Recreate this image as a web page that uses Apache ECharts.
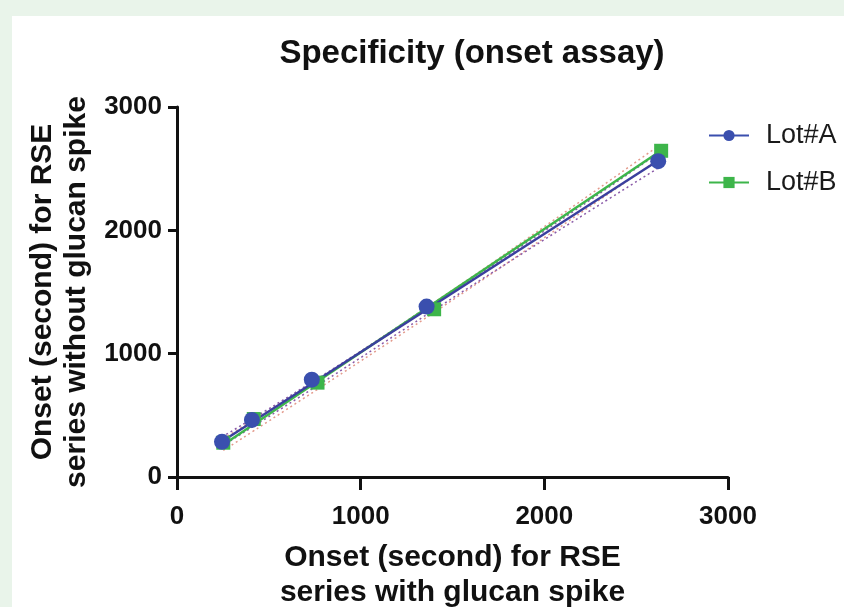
<!DOCTYPE html>
<html>
<head>
<meta charset="utf-8">
<script src="https://cdn.jsdelivr.net/npm/echarts@6/dist/echarts.min.js"></script>
<style>
  html, body { margin: 0; padding: 0; }
  body { width: 844px; height: 607px; background: #e9f4ea; position: relative; overflow: hidden; }
  #panel { position: absolute; left: 12px; top: 16px; right: 0; bottom: 0; background: #fff; }
  #chart { position: absolute; left: 0; top: 0; width: 844px; height: 607px; }
</style>
</head>
<body>
<div id="panel"></div>
<div id="chart"></div>
<script>
// 数据：Lot#A / Lot#B 的测量点（x: 有 glucan, y: 无 glucan）
const lotA = [[245, 285], [408, 463], [734, 789], [1359, 1382], [2620, 2561]];
const lotB = [[252, 278], [418, 470], [765, 765], [1400, 1360], [2636, 2645]];
// 拟合直线（读图得到的两端）
const fitA = [[245, 288], [2620, 2566]];
const fitB = [[252, 262], [2636, 2648]];
// 置信带（点线）
const bandAUp = [[245, 325], [800, 830], [1400, 1410], [2000, 1995], [2620, 2625]];
const bandALow = [[245, 250], [800, 775], [1400, 1355], [2000, 1925], [2620, 2505]];
const bandBUp = [[252, 310], [800, 825], [1400, 1415], [2000, 2030], [2636, 2700]];
const bandBLow = [[252, 215], [800, 745], [1400, 1335], [2000, 1940], [2636, 2590]];

var chartDom = document.getElementById('chart');
var myChart = echarts.init(chartDom);
var font = 'Liberation Sans, Arial, sans-serif';

function band(data, color) {
    return {
        type: 'line',
        data: data,
        smooth: true,
        showSymbol: false,
        silent: true,
        lineStyle: { color: color, width: 1.5, type: [2, 3] },
        z: 1
    };
}

var option = {
    animation: false,
    backgroundColor: 'transparent',
    title: {
        text: 'Specificity (onset assay)',
        left: 467,
        top: 32,
        textAlign: 'center',
        textStyle: { fontFamily: font, fontWeight: 'bold', fontSize: 33, color: '#111' }
    },
    legend: {
        orient: 'vertical',
        left: 703,
        top: 117,
        itemWidth: 40,
        itemHeight: 14,
        itemGap: 20,
        textStyle: { fontFamily: font, fontSize: 27, color: '#1a1a1a', padding: [0, 0, 0, 12] },
        data: [
            { name: 'Lot#A', lineStyle: { color: '#3a4fae', width: 2, opacity: 1 } },
            { name: 'Lot#B', lineStyle: { color: '#3db54a', width: 2, opacity: 1 } }
        ]
    },
    grid: { left: 177, right: 116, top: 107, bottom: 130, outerBoundsMode: 'none' },
    xAxis: {
        type: 'value',
        min: 0, max: 3000, interval: 1000,
        name: 'Onset (second) for RSE\nseries with glucan spike',
        nameLocation: 'middle',
        nameGap: 63,
        nameTextStyle: { fontFamily: font, fontWeight: 'bold', fontSize: 30, color: '#111', lineHeight: 35 },
        axisLine: { lineStyle: { color: '#111', width: 3 } },
        axisTick: { length: 13, lineStyle: { color: '#111', width: 3 } },
        axisLabel: {
            margin: 27, fontFamily: font, fontWeight: 'bold', fontSize: 26, color: '#111',
            formatter: function (v) { return String(v); }
        },
        splitLine: { show: false }
    },
    yAxis: {
        type: 'value',
        min: 0, max: 3000, interval: 1000,
        name: 'Onset (second) for RSE\nseries without glucan spike',
        nameLocation: 'middle',
        nameGap: 83,
        nameTextStyle: { fontFamily: font, fontWeight: 'bold', fontSize: 30, color: '#111', lineHeight: 34 },
        axisLine: { show: true, lineStyle: { color: '#111', width: 3 } },
        axisTick: { show: true, length: 9, lineStyle: { color: '#111', width: 3 } },
        axisLabel: {
            margin: 15, fontFamily: font, fontWeight: 'bold', fontSize: 26, color: '#111',
            formatter: function (v) { return String(v); }
        },
        splitLine: { show: false }
    },
    series: [
        band(bandBUp, '#e39a8c'),
        band(bandBLow, '#e39a8c'),
        band(bandAUp, '#8a5aa8'),
        band(bandALow, '#8a5aa8'),
        {
            type: 'line', data: fitB, showSymbol: false, silent: true, z: 2,
            lineStyle: { color: '#3db54a', width: 2.5 }
        },
        {
            type: 'line', data: fitA, showSymbol: false, silent: true, z: 2,
            lineStyle: { color: '#3b3f9e', width: 2.5 }
        },
        {
            name: 'Lot#B', type: 'line', data: lotB, z: 3,
            symbol: 'rect', symbolSize: 14, showAllSymbol: true,
            itemStyle: { color: '#3db54a' },
            lineStyle: { width: 0, color: '#3db54a' }
        },
        {
            name: 'Lot#A', type: 'line', data: lotA, z: 4,
            symbol: 'circle', symbolSize: 16, showAllSymbol: true,
            itemStyle: { color: '#3a4fae' },
            lineStyle: { width: 0, color: '#3a4fae' }
        }
    ]
};

option && myChart.setOption(option);
</script>
</body>
</html>
